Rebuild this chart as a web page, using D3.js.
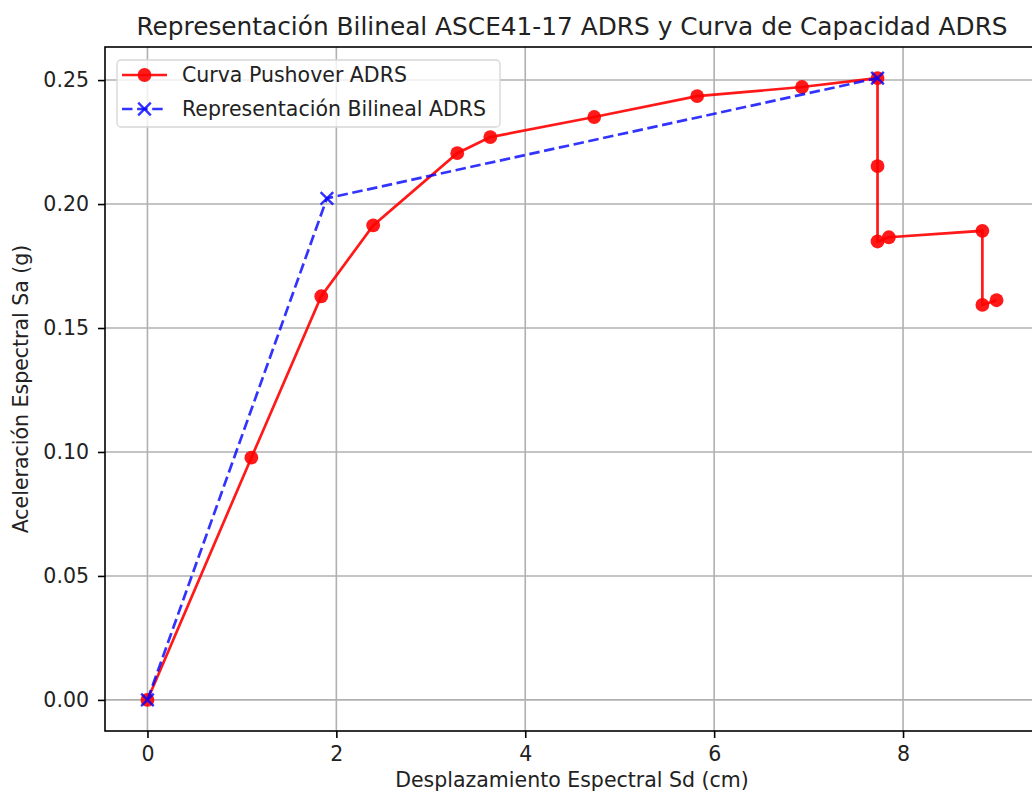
<!DOCTYPE html>
<html>
<head>
<meta charset="utf-8">
<script src="https://cdn.jsdelivr.net/npm/d3@7"></script>
<style>
  html, body { margin: 0; padding: 0; background: #fff; }
  svg { display: block; font-family: "DejaVu Sans", sans-serif; }
</style>
</head>
<body>
<svg id="chart" width="1032" height="796"></svg>
<script>
// Capacity curve (pushover) in ADRS format: Sd in cm, Sa in g
const pushoverSd = [0, 1.10, 1.84, 2.39, 3.28, 3.63, 4.73, 5.82, 6.93, 7.73, 7.73, 7.73, 7.85, 8.84, 8.84, 8.99];
const pushoverSa = [0, 0.0977, 0.1628, 0.1914, 0.2205, 0.2270, 0.2351, 0.2435, 0.2472, 0.2508, 0.2153, 0.1849, 0.1866, 0.1892, 0.1593, 0.1612];

// ASCE 41-17 bilinear idealisation
const bilinearSd = [0, 1.90, 7.73];
const bilinearSa = [0, 0.2023, 0.2508];

const xTicks = [0, 2, 4, 6, 8];
const yTicks = [0.00, 0.05, 0.10, 0.15, 0.20, 0.25];

const titleText = "Representación Bilineal ASCE41-17 ADRS y Curva de Capacidad ADRS";
const xLabel = "Desplazamiento Espectral Sd (cm)";
const yLabel = "Aceleración Espectral Sa (g)";
const legendLabels = ["Curva Pushover ADRS", "Representación Bilineal ADRS"];

(function () {
const svg = d3.select("#chart");
const mLeft = 105, mRight = 1039, mTop = 47, mBottom = 731;
const fs = 20.5, titleFs = 24.8;
const textColor = "#222";

// Axis limits with 5% margins around the data
const xMax = d3.max(pushoverSd), xMin = 0;
const yMax = d3.max(pushoverSa), yMin = 0;
const xPad = (xMax - xMin) * 0.05, yPad = (yMax - yMin) * 0.05;

const x = d3.scaleLinear().domain([xMin - xPad, xMax + xPad]).range([mLeft, mRight]);
const y = d3.scaleLinear().domain([yMin - yPad, yMax + yPad]).range([mBottom, mTop]);

const plot = svg.append("g");

// Grid
plot.append("g").selectAll("line").data(xTicks).join("line")
  .attr("x1", d => x(d)).attr("x2", d => x(d))
  .attr("y1", mTop).attr("y2", mBottom)
  .attr("stroke", "#b0b0b0").attr("stroke-width", 1.6);
plot.append("g").selectAll("line").data(yTicks).join("line")
  .attr("x1", mLeft).attr("x2", mRight)
  .attr("y1", d => y(d)).attr("y2", d => y(d))
  .attr("stroke", "#b0b0b0").attr("stroke-width", 1.6);

// Axes
const xAxis = d3.axisBottom(x).tickValues(xTicks).tickFormat(d3.format("d")).tickSize(7).tickPadding(8);
const yAxis = d3.axisLeft(y).tickValues(yTicks).tickFormat(d3.format(".2f")).tickSize(7).tickPadding(9);

const gx = svg.append("g").attr("transform", `translate(0,${mBottom})`).call(xAxis);
const gy = svg.append("g").attr("transform", `translate(${mLeft},0)`).call(yAxis);
[gx, gy].forEach(g => {
  g.select(".domain").remove();
  g.selectAll(".tick line").attr("stroke", "#000").attr("stroke-width", 1.6);
  g.selectAll(".tick text").attr("font-family", "DejaVu Sans").attr("font-size", fs).attr("fill", textColor);
});

// Frame
svg.append("rect").attr("x", mLeft).attr("y", mTop)
  .attr("width", mRight - mLeft).attr("height", mBottom - mTop)
  .attr("fill", "none").attr("stroke", "#000").attr("stroke-width", 1.6);

const pushData = pushoverSd.map((d, i) => [d, pushoverSa[i]]);
const bilData = bilinearSd.map((d, i) => [d, bilinearSa[i]]);
const line = d3.line().x(d => x(d[0])).y(d => y(d[1]));

const red = "rgba(255,0,0,0.9)";
const blue = "rgba(0,0,255,0.8)";
const lw = 2.7, dash = "10.5,4.6", mr = 6.9, xs = 6.3;

// Pushover curve
plot.append("path").datum(pushData).attr("d", line)
  .attr("fill", "none").attr("stroke", red).attr("stroke-width", lw);
plot.append("g").selectAll("circle").data(pushData).join("circle")
  .attr("cx", d => x(d[0])).attr("cy", d => y(d[1])).attr("r", mr)
  .attr("fill", red);

// Bilinear representation
plot.append("path").datum(bilData).attr("d", line)
  .attr("fill", "none").attr("stroke", blue).attr("stroke-width", lw)
  .attr("stroke-dasharray", dash);
const xMark = (g, cx, cy, s) => {
  g.append("path")
    .attr("d", `M${cx - s},${cy - s}L${cx + s},${cy + s}M${cx - s},${cy + s}L${cx + s},${cy - s}`)
    .attr("stroke", blue).attr("stroke-width", 2.4).attr("fill", "none");
};
const marks = plot.append("g");
bilData.forEach(d => xMark(marks, x(d[0]), y(d[1]), xs));

// Title and axis labels
svg.append("text").attr("x", (mLeft + mRight) / 2).attr("y", 35)
  .attr("text-anchor", "middle").attr("font-size", titleFs).attr("fill", textColor)
  .text(titleText);
svg.append("text").attr("x", (mLeft + mRight) / 2).attr("y", 787)
  .attr("text-anchor", "middle").attr("font-size", fs).attr("fill", textColor)
  .text(xLabel);
svg.append("text").attr("transform", `translate(28,${(mTop + mBottom) / 2}) rotate(-90)`)
  .attr("text-anchor", "middle").attr("font-size", fs).attr("fill", textColor)
  .text(yLabel);

// Legend
const lg = svg.append("g").attr("transform", "translate(117,60)");
lg.append("rect").attr("width", 383).attr("height", 67).attr("rx", 4)
  .attr("fill", "rgba(255,255,255,0.8)").attr("stroke", "#d6d6d6").attr("stroke-width", 1.3);
lg.append("line").attr("x1", 5).attr("x2", 50).attr("y1", 15).attr("y2", 15)
  .attr("stroke", red).attr("stroke-width", lw);
lg.append("circle").attr("cx", 27.5).attr("cy", 15).attr("r", mr).attr("fill", red);
lg.append("line").attr("x1", 5).attr("x2", 50).attr("y1", 49).attr("y2", 49)
  .attr("stroke", blue).attr("stroke-width", lw).attr("stroke-dasharray", dash);
xMark(lg, 27.5, 49, xs);
lg.append("text").attr("x", 65).attr("y", 15).attr("dy", "0.35em")
  .attr("font-size", fs).attr("fill", textColor).text(legendLabels[0]);
lg.append("text").attr("x", 65).attr("y", 49).attr("dy", "0.35em")
  .attr("font-size", fs).attr("fill", textColor).text(legendLabels[1]);
})();
</script>
</body>
</html>
